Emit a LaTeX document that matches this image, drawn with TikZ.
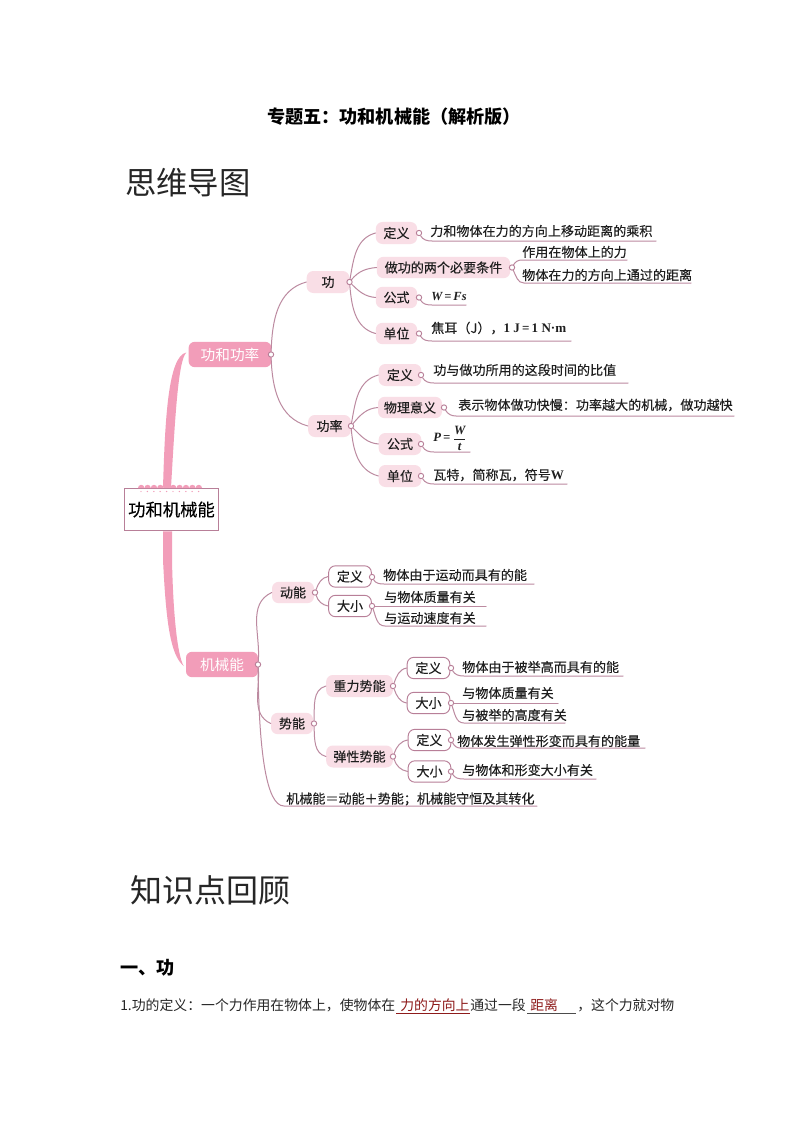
\documentclass[tikz,border=0pt]{standalone}
\usepackage{fontspec}
\usetikzlibrary{calc}
\setmainfont{Noto Sans CJK SC}
\newfontfamily\serf{Liberation Serif}
\newfontfamily\heavy[FakeBold=0.25]{Noto Sans CJK SC}
\definecolor{brline}{HTML}{BC8AA0}
\definecolor{lnk}{HTML}{B87F98}
\definecolor{mainpink}{HTML}{F29DB9}
\definecolor{softpink}{HTML}{F9DEE6}
\definecolor{deepred}{HTML}{8E1B1B}
\newcommand{\bi}[1]{\hbox{\serf\bfseries\itshape #1}}
\tikzset{
  x=0.75pt,y=-0.75pt,
  mapfont/.style={font=\heavy\fontsize{9.8pt}{11pt}\selectfont,text=black!88},
  mainbox/.style={fill=mainpink,rounded corners=4.5pt,inner sep=0pt,text=white,font=\fontsize{11pt}{12pt}\selectfont},
  softbox/.style={mapfont,fill=softpink,rounded corners=5pt,inner sep=0pt},
  linebox/.style={mapfont,draw=lnk,line width=0.7pt,fill=white,rounded corners=5pt,inner sep=0pt,minimum width=32pt,minimum height=16pt},
  dot/.style={circle,draw=lnk,line width=0.7pt,fill=white,inner sep=0pt,minimum size=4pt},
  branch/.style={draw=brline,line width=0.75pt,line cap=round},
  leaf/.style={mapfont,anchor=west,inner sep=0pt},
  heading/.style={font=\fontsize{23.5pt}{26pt}\selectfont,anchor=west,inner sep=0pt,text=black!85},
  thickband/.style={fill=mainpink,draw=none},
}
% \leafline{from}{name}{startx}{y}{endx}{out angle}
\newcommand{\leafline}[6]{%
  \coordinate (#2s) at (#3,#4);
  \coordinate (#2e) at (#5,#4);
  \draw[branch] (#1) to[out=#6,in=180] (#2s) -- (#2e);
}
% \twig{from}{to}{out}{in}
\newcommand{\twig}[4]{\draw[branch] (#1) to[out=#3,in=#4] (#2.west);}
\begin{document}
\begin{tikzpicture}
\useasboundingbox (0,0) rectangle (794,1123);
\fill[white] (0,0) rectangle (794,1123);

% page text
\node[font=\bfseries\fontsize{13.6pt}{15pt}\selectfont,inner sep=0pt] (title) at (394,117) {专题五：功和机械能（解析版）};
\node[heading] (h1) at (125,183) {思维导图};
\node[heading,font=\fontsize{24pt}{26pt}\selectfont] (h2) at (130,890) {知识点回顾};
\node[font=\bfseries\fontsize{13.6pt}{15pt}\selectfont,anchor=west,inner sep=0pt] (h3) at (120,968) {一、功};
\tikzset{body/.style={font=\fontsize{10.4pt}{12pt}\selectfont,anchor=west,inner sep=0pt,text=black!85}}
\node[body] (p1) at (120,1005) {1.功的定义：一个力作用在物体上，使物体在};
\node[body,text=deepred] (p2) at (400,1005) {力的方向上};
\node[body] (p3) at (470,1005) {通过一段};
\node[body,text=deepred] (p4) at (530,1005) {距离};
\node[body] (p5) at (577,1005) {，这个力就对物};
\coordinate (u1a) at (396,1013); \coordinate (u1b) at (470,1013);
\coordinate (u2a) at (527,1013); \coordinate (u2b) at (576,1013);
\draw[deepred,line width=0.5pt] (u1a) -- (u1b);
\draw[black!70,line width=0.5pt] (u2a) -- (u2b);

% root and main
\node[draw=lnk,line width=0.8pt,fill=white,minimum width=71pt,minimum height=32pt,inner sep=0pt,font=\heavy\fontsize{13pt}{14pt}\selectfont] (root) at (171.5,509.5) {功和机械能};
\node[mainbox,minimum width=62pt,minimum height=19pt] (gl) at (230,354.5) {功和功率};
\node[mainbox,minimum width=54pt,minimum height=19pt] (jx) at (222,664.5) {机械能};
\fill[thickband] ($(root.north)+(-8.5,0)$) .. controls (165,420) and (168,356) .. ($(gl.west)+(-2,-2)$)
  .. controls (178,360) and (175,420) .. ($(root.north)+(-0.5,0)$) -- cycle;
\fill[thickband] ($(root.south)+(-8.5,0)$) -- (163,560) .. controls (166,620) and (170,655) .. ($(jx.west)+(-2,1.5)$)
  .. controls (177,655) and (173,610) .. (172,560) -- ($(root.south)+(0.5,0)$) -- cycle;
\foreach \i in {0,...,9}{
  \fill[mainpink] (138+6.4*\i,488) arc[start angle=180,end angle=0,radius=2.4pt];
  \fill[mainpink] (141+6.4*\i,491.5) circle[radius=0.55pt];
}

% power branch
\node[dot] (cgl) at (271,354.5) {};
\node[softbox,minimum width=32pt,minimum height=16.5pt] (g) at (328,282) {功};
\node[softbox,minimum width=32pt,minimum height=16.5pt] (gn) at (329.5,426) {功率};
\twig{cgl}{g}{88}{195}
\twig{cgl}{gn}{-88}{165}
\node[dot] (cg) at (349.5,282) {};
\node[dot] (cgn) at (351,426) {};

\node[softbox,minimum width=31pt,minimum height=16.5pt] (a1) at (396.5,233) {定义};
\node[softbox,minimum width=100pt,minimum height=16pt] (a2) at (443.5,267.5) {做功的两个必要条件};
\node[softbox,minimum width=31pt,minimum height=16pt] (a3) at (396.5,297.5) {公式};
\node[softbox,minimum width=31pt,minimum height=16pt] (a4) at (396.5,333.5) {单位};
\twig{cg}{a1}{80}{195}
\twig{cg}{a2}{50}{185}
\twig{cg}{a3}{-45}{175}
\twig{cg}{a4}{-85}{165}
\node[dot] (ca1) at (419,233) {};
\node[dot] (ca2) at (512,267.5) {};
\node[dot] (ca3) at (419,297.5) {};
\node[dot] (ca4) at (419,333.5) {};

\node[softbox,minimum width=32pt,minimum height=16.5pt] (b1) at (400,375) {定义};
\node[softbox,minimum width=48pt,minimum height=16pt] (b2) at (410,407.5) {物理意义};
\node[softbox,minimum width=32pt,minimum height=16.5pt] (b3) at (400,444) {公式};
\node[softbox,minimum width=32pt,minimum height=16.5pt] (b4) at (400,476) {单位};
\twig{cgn}{b1}{80}{195}
\twig{cgn}{b2}{50}{185}
\twig{cgn}{b3}{-45}{175}
\twig{cgn}{b4}{-85}{165}
\node[dot] (cb1) at (421,375) {};
\node[dot] (cb2) at (444,407.5) {};
\node[dot] (cb3) at (421,444) {};
\node[dot] (cb4) at (421,476) {};

\node[leaf] (ta1) at (430,231) {力和物体在力的方向上移动距离的乘积};
\leafline{ca1}{la1}{432}{241}{656}{-60}
\node[leaf] (ta2) at (522,252) {作用在物体上的力};
\leafline{ca2}{la2}{522}{260}{627}{60}
\node[leaf] (ta3) at (522,275) {物体在力的方向上通过的距离};
\leafline{ca2}{la3}{524}{283}{691}{-65}
\node[leaf,font=\serf\bfseries\itshape\fontsize{9.3pt}{11pt}\selectfont] (ta4) at (431,297) {W\,=\,Fs};
\leafline{ca3}{la4}{432}{305}{466}{-60}
\node[leaf] (ta5) at (431,328) {焦耳（J），{\serf\bfseries 1 J\,=\,1 N·m}};
\leafline{ca4}{la5}{432}{341}{571}{-60}
\node[leaf] (tb1) at (433,370) {功与做功所用的这段时间的比值};
\leafline{cb1}{lb1}{434}{383}{628}{-60}
\node[leaf] (tb2) at (458,405) {表示物体做功快慢：功率越大的机械，做功越快};
\leafline{cb2}{lb2}{456}{416}{734}{-60}
\node[leaf,font=\serf\bfseries\itshape\fontsize{9.5pt}{11pt}\selectfont] (tb3) at (433,438) {P\,=\,$\displaystyle\frac{\bi{W}}{\bi{t}}$};
\leafline{cb3}{lb3}{434}{452}{470}{-60}
\node[leaf] (tb4) at (433,475) {瓦特，简称瓦，符号{\serf\bfseries W}};
\leafline{cb4}{lb4}{434}{484}{567}{-60}

% mechanical energy branch
\node[dot] (cjx) at (258,664.5) {};
\node[softbox,minimum width=31.5pt,minimum height=16pt] (d) at (293,592.5) {动能};
\node[softbox,minimum width=31.5pt,minimum height=16pt] (s) at (292,723.5) {势能};
\twig{cjx}{d}{85}{205}
\twig{cjx}{s}{-85}{155}
\node[leaf] (tm) at (286,799) {机械能＝动能＋势能；机械能守恒及其转化};
\coordinate (lms) at (284,806);
\coordinate (lme) at (537,806);
\draw[branch] (cjx) .. controls (259,750) and (266,806) .. (lms) -- (lme);
\node[dot] (cd) at (315,592.5) {};
\node[dot] (cs) at (314,723.5) {};

\node[linebox] (d1) at (350,576.5) {定义};
\node[linebox] (d2) at (350,606) {大小};
\twig{cd}{d1}{70}{190}
\twig{cd}{d2}{-70}{170}
\node[dot] (cd1) at (372,577) {};
\node[dot] (cd2) at (372,606) {};
\node[leaf] (td1) at (383,575) {物体由于运动而具有的能};
\leafline{cd1}{ld1}{384}{584}{534}{-60}
\node[leaf] (td2) at (384,597) {与物体质量有关};
\coordinate (ld2e) at (486,606);
\draw[branch] (cd2) -- (ld2e);
\node[leaf] (td3) at (384,618) {与运动速度有关};
\leafline{cd2}{ld3}{385}{626}{486}{-70}

\node[softbox,minimum width=50pt,minimum height=16.5pt] (s1) at (359.5,686) {重力势能};
\node[softbox,minimum width=50pt,minimum height=16.5pt] (s2) at (359.5,756.5) {弹性势能};
\twig{cs}{s1}{88}{195}
\twig{cs}{s2}{-88}{165}
\node[dot] (cs1) at (393,686) {};
\node[dot] (cs2) at (393,756.5) {};

\node[linebox] (e1) at (428.5,668) {定义};
\node[linebox] (e2) at (428.5,703) {大小};
\node[linebox] (f1) at (429.5,740) {定义};
\node[linebox] (f2) at (429.5,771.5) {大小};
\twig{cs1}{e1}{70}{190}
\twig{cs1}{e2}{-70}{170}
\twig{cs2}{f1}{70}{190}
\twig{cs2}{f2}{-70}{170}
\node[dot] (ce1) at (451,668) {};
\node[dot] (ce2) at (451,703) {};
\node[dot] (cf1) at (451,740) {};
\node[dot] (cf2) at (451,771.5) {};

\node[leaf] (te1) at (462,667) {物体由于被举高而具有的能};
\leafline{ce1}{le1}{464}{676}{623}{-60}
\node[leaf] (te2) at (462,693) {与物体质量有关};
\coordinate (le2e) at (558,703);
\draw[branch] (ce2) -- (le2e);
\node[leaf] (te3) at (462,715) {与被举的高度有关};
\leafline{ce2}{le3}{464}{723}{565}{-70}
\node[leaf] (tf1) at (457,741) {物体发生弹性形变而具有的能量};
\leafline{cf1}{lf1}{460}{748}{645}{-60}
\node[leaf] (tf2) at (462,770) {与物体和形变大小有关};
\leafline{cf2}{lf2}{464}{779}{596}{-60}
\end{tikzpicture}
\end{document}
